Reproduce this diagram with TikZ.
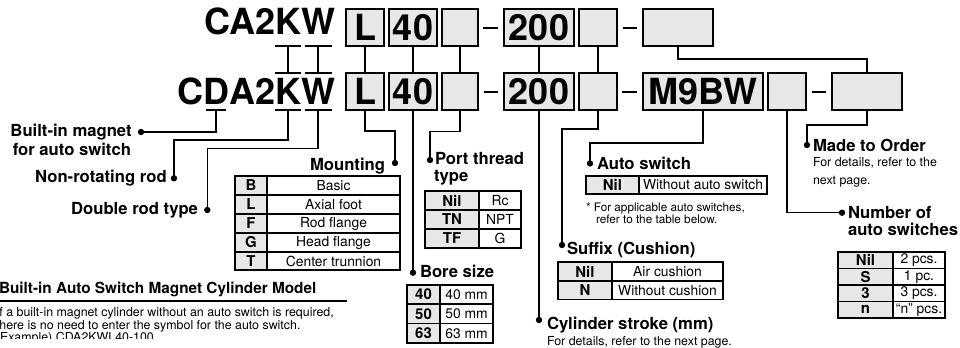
\documentclass[tikz,border=0pt]{standalone}
\usepackage{fontspec}
\setmainfont{TeX Gyre Heros}
\usetikzlibrary{calc}
\definecolor{boxgray}{HTML}{E6E7E8}
\newcommand{\trow}[8]{%
  \node[labcell, minimum width={(#3-#2)*0.75pt}, minimum height={(#6-#5)*0.75pt}] (#1l) at ({(#2+#3)/2},{(#5+#6)/2}) {#7};
  \node[valcell, minimum width={(#4-#3)*0.75pt}, minimum height={(#6-#5)*0.75pt}] (#1v) at ({(#3+#4)/2},{(#5+#6)/2}) {#8};}
\begin{document}
\begin{tikzpicture}[x=0.75pt,y=-0.75pt,
  every node/.style={inner sep=0pt,outer sep=0pt},
  codefont/.style={font=\fontsize{27}{27}\selectfont\bfseries},
  codetxt/.style={codefont,anchor=base east},
  codebox/.style={codefont,draw,fill=boxgray,line width=1.1pt,minimum height=27.75pt},
  dashsym/.style={fill=black,minimum width=11pt,minimum height=1.6pt},
  conn/.style={line width=1.1pt},
  uline/.style={line width=1.1pt},
  headtxt/.style={font=\fontsize{12.5}{14}\selectfont\bfseries},
  smalltxt/.style={font=\fontsize{9.3}{11}\selectfont},
  tinytxt/.style={font=\fontsize{8.8}{10}\selectfont},
  titletxt/.style={font=\fontsize{11.5}{13}\selectfont\bfseries},
  bodytxt/.style={font=\fontsize{9.3}{11}\selectfont},
  labcell/.style={draw,fill=boxgray,line width=0.8pt,font=\fontsize{11.2}{12}\selectfont\bfseries},
  valcell/.style={draw,fill=white,line width=0.8pt,font=\fontsize{10.4}{12}\selectfont},
  dotfill/.style={fill=black}
]
\useasboundingbox (0,0) rectangle (960,348);

% ---- row 1 ----
\node[codetxt] (w1) at (335,35) {W};
\node[codetxt] (k1) at (w1.base west) {K};
\node[codetxt] (ca1) at (k1.base west) {CA2};
\node[codebox,minimum width=28.5pt] (L1) at (365,27.5) {L};
\node[codebox,minimum width=36pt] (b1) at (413,27.5) {40};
\node[codebox,minimum width=27pt] (e11) at (460,27.5) {};
\node[dashsym] (da1) at (490.5,28.3) {};
\node[codebox,minimum width=52.5pt] (s1) at (539,27.5) {200};
\node[codebox,minimum width=28.5pt] (e21) at (598,27.5) {};
\node[dashsym] (db1) at (630,28.3) {};
\node[codebox,minimum width=52.5pt] (mto1) at (678,27.3) {};

% ---- row 2 ----
\node[codetxt] (w2) at (335,105) {W};
\node[codetxt] (k2) at (w2.base west) {K};
\node[codetxt] (a2) at (k2.base west) {A2};
\node[codetxt] (d2) at (a2.base west) {D};
\node[codetxt] (c2) at (d2.base west) {C};
\node[codebox,minimum width=28.5pt] (L2) at (365,91.5) {L};
\node[codebox,minimum width=36pt] (b2) at (413,91.5) {40};
\node[codebox,minimum width=27pt] (e12) at (460,91.5) {};
\node[dashsym] (da2) at (491,91.7) {};
\node[codebox,minimum width=52.5pt] (s2) at (539,91.5) {200};
\node[codebox,minimum width=28.5pt] (e22) at (598,91.5) {};
\node[dashsym] (db2) at (629.5,91.7) {};
\node[codebox,minimum width=90pt] (m9) at (703,91.5) {M9BW};
\node[codebox,minimum width=28.5pt] (e3) at (787,91.5) {};
\node[dashsym] (dc2) at (819,91.7) {};
\node[codebox,minimum width=52.5pt] (mto2) at (867,91.5) {};

% ---- underlines / overlines ----
\coordinate (k1u) at (k1.base |- L1.south);
\coordinate (w1u) at (w1.base |- L1.south);
\coordinate (k2o) at (k2.base |- L2.north);
\coordinate (w2o) at (w2.base |- L2.north);
\coordinate (k2u) at (k2.base |- L2.south);
\coordinate (w2u) at (w2.base |- L2.south);
\coordinate (d2u) at (d2.base |- L2.south);
\draw[uline] ($(k1u)+(-13,0)$) -- ($(k1u)+(13,0)$);
\draw[uline] ($(w1u)+(-13.5,0)$) -- ($(w1u)+(13.5,0)$);
\draw[uline] ($(k2o)+(-13,0)$) -- ($(k2o)+(13,0)$);
\draw[uline] ($(w2o)+(-13.5,0)$) -- ($(w2o)+(13.5,0)$);
\draw[uline] ($(k2u)+(-13,0)$) -- ($(k2u)+(13,0)$);
\draw[uline] ($(w2u)+(-13.5,0)$) -- ($(w2u)+(13.5,0)$);
\draw[uline] ($(d2u)+(-10,0)$) -- ($(d2u)+(10,0)$);

% ---- connectors row 1 -> row 2 ----
\draw[conn] (k1u) -- (k2o);
\draw[conn] (w1u) -- (w2o);
\draw[conn] (L1) -- (L2);
\draw[conn] (b1) -- (b2);
\draw[conn] (e11) -- (e12);
\draw[conn] (s1) -- (s2);
\draw[conn] (e21) -- (e22);
\draw[conn] (mto1.south) -- ++(0,13) -| (mto2.north);

% ---- dot coordinates ----
\coordinate (magdot) at (141,132);
\coordinate (nrdot) at (174,178.3);
\coordinate (drdot) at (207.3,210);
\coordinate (mtdot) at (395,163);
\coordinate (ptdot) at (430,160);
\coordinate (bsdot) at (413,272.7);
\coordinate (csdot) at (539,320);
\coordinate (sfdot) at (562,245);
\coordinate (asdot) at (590,163.5);
\coordinate (nadot) at (842,212.7);
\coordinate (modot) at (807,145);

% ---- connectors row 2 -> labels ----
\draw[conn] (d2u) |- (magdot);
\draw[conn] (k2u) -- ++(0,30) -| (nrdot);
\draw[conn] (w2u) -- ++(0,38.6) -| (drdot);
\draw[conn] (L2.south) -- ++(0,21) -| (mtdot);
\draw[conn] (b2.south) -- (bsdot);
\draw[conn] (e12.south) -- ++(0,21.5) -| (ptdot);
\draw[conn] (s2.south) -- (csdot);
\draw[conn] (e22.south) -- ++(0,19) -| (sfdot);
\draw[conn] (m9.south) -- ++(0,33) -| (asdot);
\draw[conn] (e3.south) |- (nadot);
\draw[conn] (mto2.south) -- ++(0,15) -| (modot);
\foreach \p in {magdot,nrdot,drdot,mtdot,ptdot,bsdot,csdot,sfdot,asdot,nadot,modot}
  \fill[dotfill] (\p) circle[radius=2.4pt];

% ---- labels ----
\node[headtxt,anchor=base east] (lbm1) at (131.7,137) {Built-in magnet};
\node[headtxt,anchor=base east] (lbm2) at (131,156) {for auto switch};
\node[headtxt,anchor=base east] (lnr) at (166.7,183) {Non-rotating rod};
\node[headtxt,anchor=base east] (ldr) at (198,215) {Double rod type};
\node[headtxt,anchor=base east] (lmt) at (385,171) {Mounting};
\node[headtxt,anchor=base west] (lpt1) at (435,165) {Port thread};
\node[headtxt,anchor=base west] (lpt2) at (434,182) {type};
\node[headtxt,anchor=base west] (lbs) at (420,278) {Bore size};
\node[headtxt,anchor=base west] (las) at (597,170) {Auto switch};
\node[tinytxt,anchor=base west] (lnote1) at (586,211.7) {* For applicable auto switches,};
\node[tinytxt,anchor=base west] (lnote2) at (596,224) {refer to the table below.};
\node[headtxt,anchor=base west] (lsf) at (567,255) {Suffix (Cushion)};
\node[headtxt,anchor=base west] (lcs) at (547,330) {Cylinder stroke (mm)};
\node[smalltxt,anchor=base west] (lcs2) at (547,346) {For details, refer to the next page.};
\node[headtxt,anchor=base west] (lmo) at (813,151.7) {Made to Order};
\node[smalltxt,anchor=base west] (lmo2) at (813,166.7) {For details, refer to the};
\node[smalltxt,anchor=base west] (lmo3) at (813,184.3) {next page.};
\node[headtxt,anchor=base west] (lna1) at (848,218.3) {Number of};
\node[headtxt,anchor=base west] (lna2) at (848,235.7) {auto switches};

% ---- tables ----
\trow{mB}{235}{267}{400}{176}{195}{B}{Basic}
\trow{mL}{235}{267}{400}{195}{214}{L}{Axial foot}
\trow{mF}{235}{267}{400}{214}{233}{F}{Rod flange}
\trow{mG}{235}{267}{400}{233}{252}{G}{Head flange}
\trow{mT}{235}{267}{400}{252}{270}{T}{Center trunnion}

\trow{pN}{425}{479}{521}{191}{210}{Nil}{Rc}
\trow{pTN}{425}{479}{521}{210}{229}{TN}{NPT}
\trow{pTF}{425}{479}{521}{229}{248}{TF}{G}

\trow{b40}{407}{440}{493}{285}{304}{40}{40 mm}
\trow{b50}{407}{440}{493}{304}{323.5}{50}{50 mm}
\trow{b63}{407}{440}{493}{323.5}{343}{63}{63 mm}

\trow{aN}{586}{639}{767}{176}{194}{Nil}{Without auto switch}

\trow{sN}{558}{612}{723}{262}{281}{Nil}{Air cushion}
\trow{sNN}{558}{612}{723}{281}{299.5}{N}{Without cushion}

\trow{nN}{838}{893}{945}{252}{268.5}{Nil}{2 pcs.}
\trow{nS}{838}{893}{945}{268.5}{285}{S}{1 pc.}
\trow{n3}{838}{893}{945}{285}{301.5}{3}{3 pcs.}
\trow{nn}{838}{893}{945}{301.5}{318}{n}{``n'' pcs.}

% ---- bottom-left note ----
\node[titletxt,anchor=base west] (bt) at (-1,294) {Built-in Auto Switch Magnet Cylinder Model};
\draw[line width=1.5pt] (-5,300.7) -- (346.7,300.7);
\node[bodytxt,anchor=base west] (bb1) at (-4,317) {If a built-in magnet cylinder without an auto switch is required,};
\node[bodytxt,anchor=base west] (bb2) at (-4,329.5) {there is no need to enter the symbol for the auto switch.};
\begin{scope}
  \clip (-10,300) rectangle (400,338.5);
  \node[bodytxt,anchor=base west] (bb3) at (-4,342) {(Example) CDA2KWL40-100};
\end{scope}
\end{tikzpicture}
\end{document}
